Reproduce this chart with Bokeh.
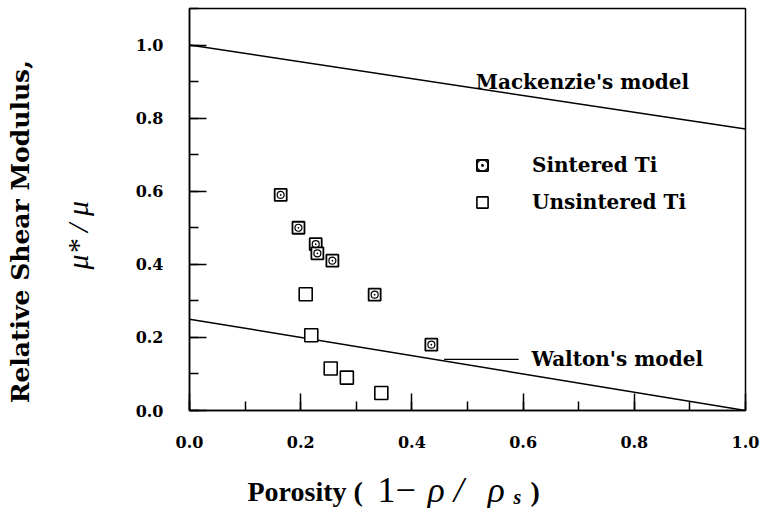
import math
from bokeh.plotting import figure
from bokeh.models import (Range1d, SingleIntervalTicker, PrintfTickFormatter, Label,
                          Legend, LegendItem, Arrow)
from bokeh.layouts import column, row
from bokeh.embed import file_html
from bokeh.resources import INLINE

# ---- data ----
sintered_x = [0.164, 0.196, 0.227, 0.230, 0.257, 0.333, 0.435]
sintered_y = [0.59, 0.50, 0.455, 0.43, 0.41, 0.317, 0.18]
unsintered_x = [0.209, 0.219, 0.254, 0.283, 0.345]
unsintered_y = [0.318, 0.206, 0.115, 0.09, 0.048]
model_x = [0.0, 1.0]
mackenzie_y = [1.0, 0.77]
walton_y = [0.25, 0.0]
tick_labels_fmt = "%.1f"

SERIF_B = "DejaVu Serif"
TIMES = "Liberation Serif"

# ---------------- main plot ----------------
p = figure(width=660, height=452, output_backend="svg", toolbar_location=None,
           x_range=Range1d(0, 1), y_range=Range1d(0, 1.1),
           min_border_left=89, min_border_right=15, min_border_top=8, min_border_bottom=42)
p.xgrid.visible = False
p.ygrid.visible = False
p.outline_line_color = "black"
p.outline_line_width = 1.5
p.background_fill_color = "white"
p.border_fill_color = "white"

for ax in (p.xaxis[0], p.yaxis[0]):
    ax.ticker = SingleIntervalTicker(interval=0.2, num_minor_ticks=2)
    ax.formatter = PrintfTickFormatter(format=tick_labels_fmt)
    ax.major_tick_in = 17
    ax.major_tick_out = 0
    ax.minor_tick_in = 9
    ax.minor_tick_out = 0
    ax.axis_line_width = 1.5
    ax.major_tick_line_width = 1.5
    ax.minor_tick_line_width = 1.5
    ax.axis_line_color = "black"
    ax.major_tick_line_color = "black"
    ax.minor_tick_line_color = "black"
    ax.major_label_text_font = SERIF_B
    ax.major_label_text_font_style = "bold"
    ax.major_label_text_font_size = "16px"
    ax.major_label_text_color = "black"
p.yaxis.major_label_standoff = 26
p.xaxis.major_label_standoff = 25

# model lines
p.line(model_x, mackenzie_y, line_color="black", line_width=1.5)
p.line(model_x, walton_y, line_color="black", line_width=1.5)

# data points
r_sq = p.scatter(sintered_x, sintered_y, marker="square", size=12, fill_color="white",
                 line_color="black", line_width=1.8)
r_dot = p.scatter(sintered_x, sintered_y, marker="circle_dot", size=7, fill_color=None,
                  line_color="black", line_width=1.2)
r_un = p.scatter(unsintered_x, unsintered_y, marker="square", size=13, fill_color="white",
                 line_color="black", line_width=1.6)

legend = Legend(items=[LegendItem(label="Sintered Ti", renderers=[r_sq, r_dot]),
                       LegendItem(label="Unsintered Ti", renderers=[r_un])],
                location=(279, 194), padding=0, spacing=9, glyph_width=28, glyph_height=28,
                label_height=22, label_standoff=36, border_line_color=None,
                background_fill_alpha=0, label_text_font=SERIF_B,
                label_text_font_style="bold", label_text_font_size="20px",
                label_text_color="black")
p.add_layout(legend, "center")

# model annotations
p.add_layout(Label(x=0.515, y=0.90, text="Mackenzie's model", text_font=SERIF_B,
                   text_font_style="bold", text_font_size="20px", text_baseline="middle",
                   text_color="black"))
p.add_layout(Label(x=0.615, y=0.14, text="Walton's model", text_font=SERIF_B,
                   text_font_style="bold", text_font_size="20px", text_baseline="middle",
                   text_color="black"))
p.add_layout(Arrow(x_start=0.458, y_start=0.14, x_end=0.592, y_end=0.14, end=None,
                   line_color="black", line_width=1.2))


def text_panel(w, h):
    f = figure(width=w, height=h, output_backend="svg", toolbar_location=None,
               x_range=Range1d(0, w), y_range=Range1d(0, h),
               x_axis_type=None, y_axis_type=None,
               min_border_left=0, min_border_right=0, min_border_top=0, min_border_bottom=0)
    f.outline_line_color = None
    f.background_fill_color = "white"
    f.border_fill_color = "white"
    return f


# ---------------- y-axis title panel ----------------
left = text_panel(100, 452)
left.add_layout(Label(x=20, y=201, text="Relative Shear Modulus,", angle=math.pi / 2,
                      text_font=SERIF_B, text_font_style="bold", text_font_size="25px",
                      text_align="center", text_baseline="middle", text_color="black"))
left.add_layout(Label(x=77, y=197, text="μ* / μ", angle=math.pi / 2,
                      text_font=TIMES, text_font_style="italic",
                      text_font_size="30px", text_align="center", text_baseline="middle",
                      text_color="black"))

# ---------------- x-axis title panel ----------------
bottom = text_panel(760, 56)
bottom.add_layout(Label(x=247, y=17, text="Porosity (", text_font=TIMES,
                        text_font_style="bold", text_font_size="28px",
                        text_baseline="alphabetic", text_color="black"))
bottom.add_layout(Label(x=377, y=19, text="1−", text_font=TIMES,
                        text_font_style="normal", text_font_size="36px",
                        text_baseline="alphabetic", text_color="black"))
bottom.add_layout(Label(x=427, y=19, text="ρ /", text_font=TIMES,
                        text_font_style="italic", text_font_size="36px",
                        text_baseline="alphabetic", text_color="black"))
bottom.add_layout(Label(x=487, y=19, text="ρ", text_font=TIMES,
                        text_font_style="italic", text_font_size="36px",
                        text_baseline="alphabetic", text_color="black"))
bottom.add_layout(Label(x=513, y=12, text="s", text_font=TIMES,
                        text_font_style="bold italic", text_font_size="20px",
                        text_baseline="alphabetic", text_color="black"))
bottom.add_layout(Label(x=530, y=17, text=")", text_font=TIMES,
                        text_font_style="bold", text_font_size="28px",
                        text_baseline="alphabetic", text_color="black"))

layout = column(row(left, p), bottom)
open("out.html", "w").write(file_html(layout, INLINE))
